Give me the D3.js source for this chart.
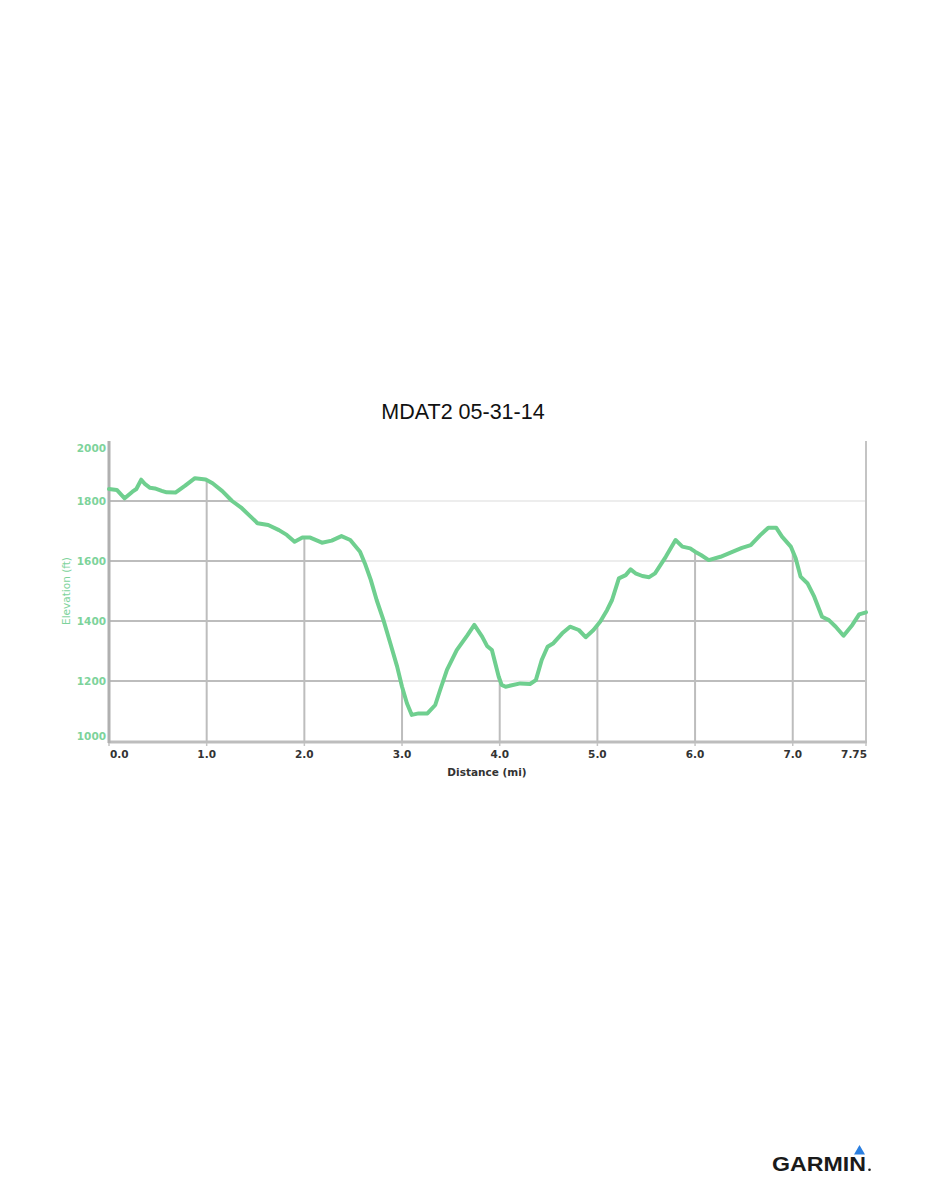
<!DOCTYPE html>
<html>
<head>
<meta charset="utf-8">
<script src="https://cdn.jsdelivr.net/npm/d3@7"></script>
<style>
  html, body { margin: 0; padding: 0; background: #fff; }
  svg { display: block; }
</style>
</head>
<body>
<svg id="chart" width="926" height="1200"></svg>
<script>
// ---- data (distance in miles, elevation in feet) ----
const distance = [0.0,0.08,0.16,0.24,0.28,0.33,0.37,0.42,0.47,0.54,0.59,0.68,0.78,0.88,0.99,1.06,1.16,1.26,1.36,1.45,1.52,1.63,1.74,1.82,1.90,1.98,2.06,2.18,2.28,2.38,2.47,2.57,2.62,2.68,2.74,2.81,2.88,2.95,3.00,3.05,3.10,3.17,3.26,3.34,3.39,3.46,3.56,3.67,3.74,3.82,3.87,3.92,3.99,4.02,4.06,4.21,4.31,4.37,4.43,4.49,4.55,4.64,4.72,4.81,4.88,4.96,5.03,5.10,5.15,5.22,5.29,5.34,5.39,5.46,5.53,5.59,5.70,5.80,5.87,5.95,6.00,6.06,6.14,6.26,6.40,6.48,6.57,6.67,6.75,6.83,6.89,6.98,7.03,7.08,7.15,7.22,7.30,7.37,7.44,7.52,7.61,7.68,7.75];
const elevation = [1840,1837,1809,1831,1840,1871,1856,1844,1842,1834,1829,1828,1851,1876,1872,1859,1833,1800,1776,1748,1726,1720,1703,1687,1664,1678,1678,1661,1668,1683,1670,1631,1592,1537,1470,1403,1326,1248,1181,1126,1087,1092,1092,1120,1170,1237,1303,1353,1387,1348,1317,1303,1214,1187,1181,1192,1190,1203,1270,1314,1326,1359,1381,1370,1346,1370,1398,1437,1470,1542,1553,1572,1559,1550,1546,1559,1614,1670,1648,1642,1631,1620,1603,1614,1633,1644,1653,1687,1711,1711,1681,1648,1609,1548,1526,1481,1414,1403,1381,1351,1387,1422,1429];
const xTicks = [0, 1, 2, 3, 4, 5, 6, 7, 7.75];
const xTickLabels = ["0.0","1.0","2.0","3.0","4.0","5.0","6.0","7.0","7.75"];
const yTicks = [1000, 1200, 1400, 1600, 1800, 2000];
const title = "MDAT2 05-31-14";
const xLabel = "Distance (mi)";
const yLabel = "Elevation (ft)";

const points = distance.map((d, i) => ({ d, e: elevation[i] }));

const svg = d3.select("#chart");
const pLeft = 109, pRight = 866, pTop = 441, pBottom = 741;
const x = d3.scaleLinear().domain([0, 7.75]).range([pLeft, pRight]);
const y = d3.scaleLinear().domain([1000, 2000]).range([pBottom, pTop]);

const green = "#6fcf8f";
const labelGreen = "#7dd39b";

// title
svg.append("text")
  .attr("x", 463).attr("y", 419)
  .attr("text-anchor", "middle")
  .attr("font-family", "Liberation Sans, Arial, Helvetica, sans-serif")
  .attr("font-size", 21.5)
  .attr("fill", "#111")
  .text(title);

// light gridlines (above curve)
svg.append("g").selectAll("line")
  .data(yTicks.filter(v => v > 1000 && v < 2000))
  .join("line")
  .attr("x1", pLeft).attr("x2", pRight)
  .attr("y1", d => y(d)).attr("y2", d => y(d))
  .attr("stroke", "#ededed").attr("stroke-width", 2);

// clip to area under the curve
const area = d3.area().x(p => x(p.d)).y0(pBottom).y1(p => y(p.e));
svg.append("clipPath").attr("id", "under")
  .append("path").attr("d", area(points));

const dark = svg.append("g").attr("clip-path", "url(#under)");
dark.selectAll("line.h")
  .data(yTicks.filter(v => v > 1000 && v < 2000))
  .join("line").attr("class", "h")
  .attr("x1", pLeft).attr("x2", pRight)
  .attr("y1", d => y(d)).attr("y2", d => y(d))
  .attr("stroke", "#bdbdbd").attr("stroke-width", 2);
dark.selectAll("line.v")
  .data(xTicks.filter(v => v > 0 && v < 7.5))
  .join("line").attr("class", "v")
  .attr("x1", d => x(d)).attr("x2", d => x(d))
  .attr("y1", pTop).attr("y2", pBottom)
  .attr("stroke", "#bdbdbd").attr("stroke-width", 2);

// right border
svg.append("line")
  .attr("x1", pRight).attr("x2", pRight).attr("y1", pTop).attr("y2", pBottom + 2)
  .attr("stroke", "#c4c4c4").attr("stroke-width", 2);

// x axis line
svg.append("line")
  .attr("x1", pLeft - 1).attr("x2", pRight + 1).attr("y1", pBottom + 1).attr("y2", pBottom + 1)
  .attr("stroke", "#bdbdbd").attr("stroke-width", 3);
// y axis line
svg.append("line")
  .attr("x1", pLeft).attr("x2", pLeft).attr("y1", pTop).attr("y2", pBottom + 2)
  .attr("stroke", "#b0b0b0").attr("stroke-width", 3);

// x tick marks
svg.append("g").selectAll("line")
  .data(xTicks).join("line")
  .attr("x1", d => x(d)).attr("x2", d => x(d))
  .attr("y1", pBottom + 2).attr("y2", pBottom + 5)
  .attr("stroke", "#c4c4c4").attr("stroke-width", 1.5);

// line
svg.append("path")
  .datum(points)
  .attr("fill", "none")
  .attr("stroke", green)
  .attr("stroke-width", 4)
  .attr("stroke-linejoin", "round")
  .attr("stroke-linecap", "round")
  .attr("d", d3.line().x(p => x(p.d)).y(p => y(p.e)));

// x tick labels
svg.append("g").selectAll("text")
  .data(xTicks).join("text")
  .attr("x", (d, i) => i === 0 ? x(d) + 1 : (i === xTicks.length - 1 ? x(d) + 1 : x(d)))
  .attr("y", 758)
  .attr("text-anchor", (d, i) => i === 0 ? "start" : (i === xTicks.length - 1 ? "end" : "middle"))
  .attr("font-family", "DejaVu Sans, Verdana, sans-serif")
  .attr("font-size", 10.5)
  .attr("font-weight", "bold")
  .attr("fill", "#333")
  .text((d, i) => xTickLabels[i]);

// y tick labels
svg.append("g").selectAll("text")
  .data(yTicks).join("text")
  .attr("x", 106)
  .attr("y", d => y(d) + (d === 2000 ? 7 : d === 1000 ? -5 : 0))
  .attr("dy", "0.35em")
  .attr("text-anchor", "end")
  .attr("font-family", "DejaVu Sans, Verdana, sans-serif")
  .attr("font-size", 10.5)
  .attr("font-weight", "bold")
  .attr("fill", labelGreen)
  .text(d => d);

// axis titles
svg.append("text")
  .attr("x", 487).attr("y", 776)
  .attr("text-anchor", "middle")
  .attr("font-family", "DejaVu Sans, Verdana, sans-serif")
  .attr("font-size", 10.5)
  .attr("font-weight", "bold")
  .attr("fill", "#333")
  .text(xLabel);

svg.append("text")
  .attr("transform", "translate(70,591) rotate(-90)")
  .attr("text-anchor", "middle")
  .attr("font-family", "DejaVu Sans, Verdana, sans-serif")
  .attr("font-size", 10.5)
  .attr("fill", labelGreen)
  .text(yLabel);

// Garmin logo
svg.append("text")
  .attr("x", 772).attr("y", 1171)
  .attr("font-family", "Liberation Sans, Arial, Helvetica, sans-serif")
  .attr("font-size", 19.5)
  .attr("font-weight", "bold")
  .attr("textLength", 94)
  .attr("lengthAdjust", "spacingAndGlyphs")
  .attr("fill", "#1a1a1a")
  .text("GARMIN");
svg.append("path")
  .attr("d", "M859.5,1145 L865,1154.5 L854,1154.5 Z")
  .attr("fill", "#2b7fe0");
svg.append("circle")
  .attr("cx", 869.5).attr("cy", 1169.8).attr("r", 1.3)
  .attr("fill", "#1a1a1a");
</script>
</body>
</html>
